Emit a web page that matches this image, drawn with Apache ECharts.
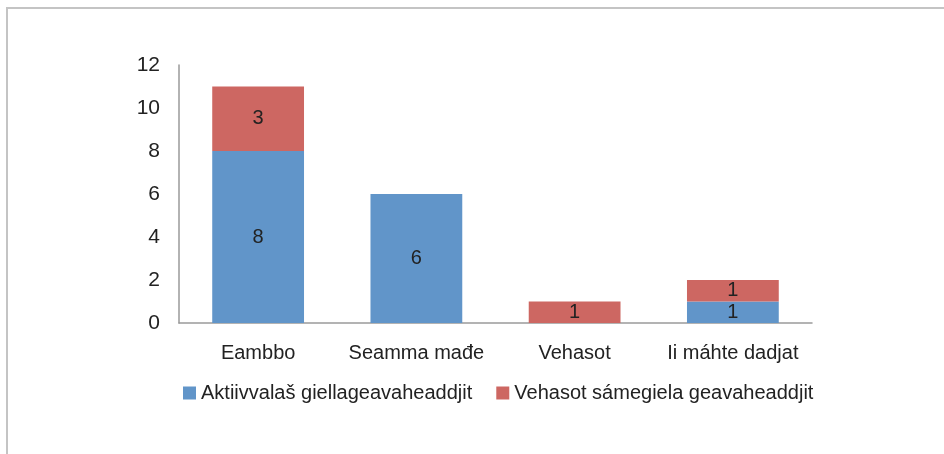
<!DOCTYPE html>
<html>
<head>
<meta charset="utf-8">
<script src="https://cdn.jsdelivr.net/npm/echarts@6/dist/echarts.min.js"></script>
<style>
  html, body { margin: 0; padding: 0; background: #fff; }
  #chart { width: 944px; height: 454px; }
</style>
</head>
<body>
<div id="chart"></div>
<script>
//类别
const categories = ['Eambbo', 'Seamma mađe', 'Vehasot', 'Ii máhte dadjat'];
//系列
const activeUsers = [8, 6, 0, 1];
const passiveUsers = [3, 0, 1, 1];
const seriesNames = ['Aktiivvalaš giellageavaheaddjit', 'Vehasot sámegiela geavaheaddjit'];

const font = '"Liberation Sans", Arial, sans-serif';

const label = {
  show: true,
  position: 'inside',
  color: '#222',
  fontSize: 20,
  fontFamily: font,
  formatter: p => (p.value ? p.value : '')
};

const myChart = echarts.init(document.getElementById('chart'));

myChart.setOption({
  animation: false,
  color: ['#6195C9', '#CD6762'],
  //外框
  graphic: [{
    type: 'rect',
    shape: { x: 7, y: 8, width: 1200, height: 1200 },
    style: { fill: 'none', stroke: '#c4c4c4', lineWidth: 2 },
    silent: true
  }],
  grid: { left: 179, right: 132, top: 65, bottom: 131 },
  legend: {
    left: 178,
    top: 378,
    itemWidth: 13,
    itemHeight: 13,
    itemGap: 24,
    icon: 'rect',
    textStyle: { fontSize: 20, fontFamily: font, color: '#222' },
    data: seriesNames
  },
  xAxis: {
    type: 'category',
    data: categories,
    axisLine: { lineStyle: { color: '#9a9a9a', width: 1.5 } },
    axisTick: { show: false },
    axisLabel: { interval: 0, fontSize: 20, fontFamily: font, color: '#222', margin: 20 }
  },
  yAxis: {
    type: 'value',
    min: 0,
    max: 12,
    interval: 2,
    splitLine: { show: false },
    axisLine: { show: true, lineStyle: { color: '#9a9a9a', width: 1.5 } },
    axisTick: { show: false },
    axisLabel: { fontSize: 21, fontFamily: font, color: '#222', margin: 19 }
  },
  series: [
    {
      name: seriesNames[0],
      type: 'bar',
      stack: 'total',
      barWidth: '58%',
      data: activeUsers,
      label: label
    },
    {
      name: seriesNames[1],
      type: 'bar',
      stack: 'total',
      barWidth: '58%',
      data: passiveUsers,
      label: label
    }
  ]
});
</script>
</body>
</html>
